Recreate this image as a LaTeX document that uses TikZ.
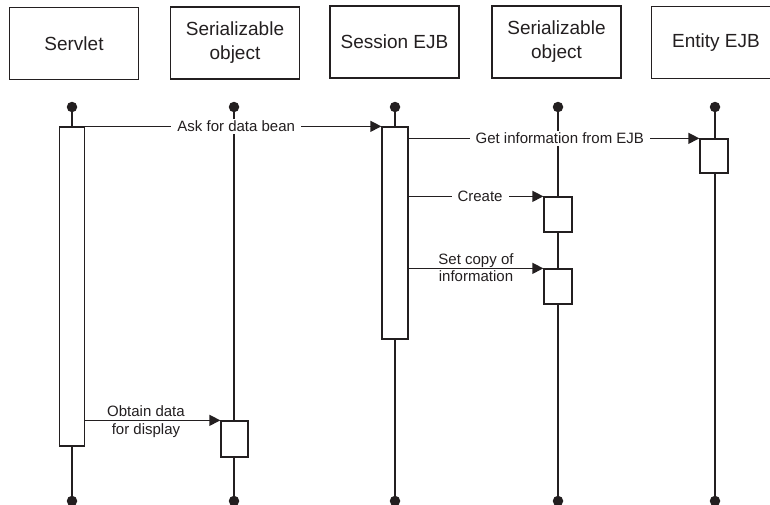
\documentclass[tikz,border=0pt]{standalone}
\usepackage{fontspec}
\setmainfont{Liberation Sans}
\usetikzlibrary{arrows.meta}
\definecolor{ink}{HTML}{231F20}
\begin{document}
\begin{tikzpicture}[x=1pt,y=-1pt,
  actor/.style={draw=ink, line width=1.2pt, minimum width=129pt, minimum height=72pt, inner sep=0pt, align=center, font=\fontsize{19}{24}\selectfont, text=ink},
  dot/.style={circle, fill=ink, inner sep=0pt, minimum size=10.5pt},
  life/.style={draw=ink, line width=1.3pt},
  act/.style={draw=ink, fill=white, line width=1.3pt, inner sep=0pt, minimum width=27pt},
  msg/.style={draw=ink, line width=1.3pt, -{Triangle[length=11pt,width=11pt]}},
  lbl/.style={fill=white, text=ink, font=\fontsize{15}{17}\selectfont, inner xsep=6pt, inner ysep=2pt},
  lbltxt/.style={text=ink, font=\fontsize{15}{17}\selectfont, inner sep=0pt, anchor=base}
]
\useasboundingbox (0,0) rectangle (770,504);
\clip (0,0) rectangle (770,504);
% actor boxes
\node[actor] (servlet) at (74,43.5) {Servlet};
\node[actor] (ser1) at (235,43) {Serializable\\object};
\node[actor] (session) at (394.5,42) {Session EJB};
\node[actor] (ser2) at (556.5,42) {Serializable\\object};
\node[actor] (entity) at (716,42.5) {Entity EJB};
% lifelines
\foreach \n/\x in {l1/72, l2/234, l3/395, l4/558, l5/715} {
  \node[dot] (\n t) at (\x,107) {};
  \node[dot] (\n b) at (\x,501) {};
  \draw[life] (\n t) -- (\n b);
}
% activations
\node[act, minimum width=25pt, minimum height=319pt] (sa) at (72,286.5) {};
\node[act, minimum width=26pt, minimum height=212pt] (ea) at (395,233) {};
\node[act, minimum width=28pt, minimum height=34pt] (en) at (714,156) {};
\node[act, minimum width=28pt, minimum height=35pt] (c1) at (558,214.5) {};
\node[act, minimum width=28pt, minimum height=35pt] (c2) at (558,286.5) {};
\node[act, minimum width=27pt, minimum height=36pt] (ob) at (234.5,439) {};
% messages
\draw[msg] (sa.east |- ea.north west) -- node[lbl, pos=0.51] {Ask for data bean} (ea.north west);
\draw[msg] (ea.east |- en.north west) -- node[lbl, pos=0.52] {Get information from EJB} (en.north west);
\draw[msg] (ea.east |- c1.north west) -- node[lbl, pos=0.53] {Create} (c1.north west);
\draw[msg] (ea.east |- c2.north west) -- node[lbltxt, pos=0.5, yshift=4pt] {Set copy of} node[lbltxt, pos=0.5, yshift=-13pt] {information} (c2.north west);
\draw[msg] (sa.east |- ob.north west) -- node[lbltxt, pos=0.45, yshift=3.5pt] {Obtain data} node[lbltxt, pos=0.45, yshift=-14pt] {for display} (ob.north west);
\end{tikzpicture}
\end{document}
